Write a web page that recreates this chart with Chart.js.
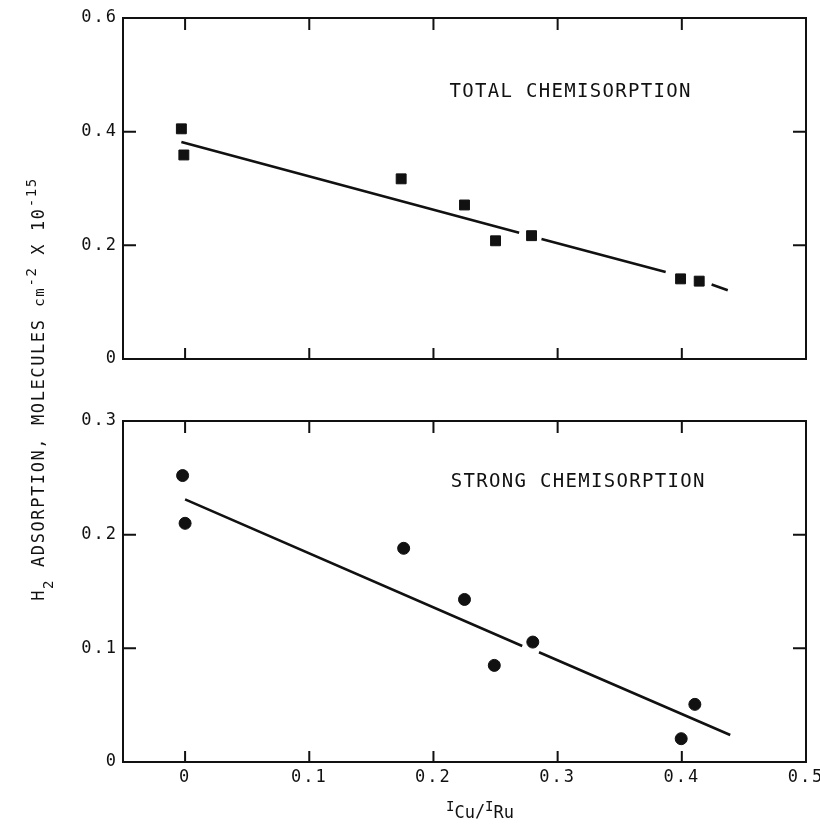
<!DOCTYPE html>
<html>
<head>
<meta charset="utf-8">
<script src="https://cdn.jsdelivr.net/npm/chart.js@4.4.1/dist/chart.umd.min.js"></script>
<style>
  html, body { margin: 0; padding: 0; background: #fff; }
  #wrap { position: relative; width: 820px; height: 824px; }
  canvas { position: absolute; left: 0; }
  #top { top: 0; }
  #bottom { top: 400px; }
</style>
</head>
<body>
<div id="wrap">
  <canvas id="top" width="820" height="824"></canvas>
  <canvas id="bottom" width="820" height="424"></canvas>
</div>
<script>
// values
const xTicks = [0, 0.1, 0.2, 0.3, 0.4, 0.5];
const totalYTicks = [0, 0.2, 0.4, 0.6];
const strongYTicks = [0, 0.1, 0.2, 0.3];

const totalX = [-0.003, -0.001, 0.174, 0.225, 0.250, 0.279, 0.399, 0.414];
const totalY = [0.405, 0.359, 0.317, 0.271, 0.208, 0.217, 0.141, 0.137];
// fit line, broken where it runs through points (null = gap)
const totalFitX = [-0.003, 0.269, null, 0.287, 0.387, null, 0.424, 0.437];
const totalFitY = [0.382, 0.222, null, 0.211, 0.153, null, 0.131, 0.121];

const strongX = [-0.002, 0.0, 0.176, 0.225, 0.249, 0.280, 0.3995, 0.4105];
const strongY = [0.252, 0.210, 0.188, 0.143, 0.085, 0.1055, 0.0205, 0.0507];
const strongFitX = [0.0, 0.2715, null, 0.285, 0.439];
const strongFitY = [0.231, 0.102, null, 0.0965, 0.0237];

const ink = '#111';
const mono = "'DejaVu Sans Mono', 'Liberation Mono', monospace";

const pts = (xs, ys) => xs.map((x, i) => ({ x: x, y: ys[i] }));

// frame with inward ticks on all four sides
const framePlugin = {
  id: 'frame',
  beforeDraw(chart) {
    chart.ctx.letterSpacing = '2px';
  },
  afterDraw(chart, args, opts) {
    const { ctx, chartArea: a, scales: { x, y } } = chart;
    ctx.save();
    ctx.letterSpacing = '0px';
    ctx.strokeStyle = ink;
    ctx.lineWidth = 2;
    ctx.strokeRect(a.left, a.top, a.width, a.height);
    ctx.beginPath();
    x.ticks.forEach(t => {
      const px = x.getPixelForValue(t.value);
      ctx.moveTo(px, a.bottom); ctx.lineTo(px, a.bottom - 11);
      ctx.moveTo(px, a.top); ctx.lineTo(px, a.top + 12);
    });
    y.ticks.forEach(t => {
      const py = y.getPixelForValue(t.value);
      ctx.moveTo(a.left, py); ctx.lineTo(a.left + 13, py);
      ctx.moveTo(a.right, py); ctx.lineTo(a.right - 13, py);
    });
    ctx.stroke();

    // panel label
    if (opts.label) {
      ctx.fillStyle = ink;
      ctx.font = '19px ' + mono;
      ctx.letterSpacing = '1.3px';
      ctx.textBaseline = 'alphabetic';
      ctx.textAlign = 'left';
      ctx.fillText(opts.label, x.getPixelForValue(opts.lx), y.getPixelForValue(opts.ly));
    }
    ctx.restore();
  }
};

function drawRuns(ctx, runs) {
  runs.forEach(r => {
    ctx.font = r.size + 'px ' + mono;
    r.w = ctx.measureText(r.t).width;
  });
  return runs.reduce((s, r) => s + r.w, 0);
}

// y axis title, spanning both panels (drawn on the top canvas)
const yTitlePlugin = {
  id: 'ytitle',
  afterDraw(chart) {
    const ctx = chart.ctx;
    const runs = [
      { t: 'H', size: 17, dy: 0 },
      { t: '2', size: 14, dy: 9 },
      { t: ' ADSORPTION, MOLECULES ', size: 17, dy: 0 },
      { t: 'cm', size: 14, dy: 0 },
      { t: '-2', size: 14, dy: -8 },
      { t: ' X 10', size: 17, dy: 0 },
      { t: '-15', size: 14, dy: -8 }
    ];
    ctx.save();
    ctx.letterSpacing = '1.6px';
    ctx.fillStyle = ink;
    const total = drawRuns(ctx, runs);
    ctx.translate(44, 389);
    ctx.rotate(-Math.PI / 2);
    let cx = -total / 2;
    runs.forEach(r => {
      ctx.font = r.size + 'px ' + mono;
      ctx.fillText(r.t, cx, r.dy);
      cx += r.w;
    });
    ctx.restore();
  }
};

// x axis title I_Cu / I_Ru (drawn on the bottom canvas)
const xTitlePlugin = {
  id: 'xtitle',
  afterDraw(chart) {
    const ctx = chart.ctx;
    const runs = [
      { t: 'I', size: 14, dy: -7 },
      { t: 'Cu', size: 17, dy: 0 },
      { t: '/', size: 17, dy: -1 },
      { t: 'I', size: 14, dy: -7 },
      { t: 'Ru', size: 17, dy: 0 }
    ];
    ctx.save();
    ctx.letterSpacing = '0px';
    ctx.fillStyle = ink;
    const total = drawRuns(ctx, runs);
    let cx = 480 - total / 2;
    runs.forEach(r => {
      ctx.font = r.size + 'px ' + mono;
      ctx.fillText(r.t, cx, 418 + r.dy);
      cx += r.w;
    });
    ctx.restore();
  }
};

function makePanel(canvas, o) {
  return new Chart(canvas, {
    type: 'scatter',
    data: {
      datasets: [
        {
          data: pts(o.fitX, o.fitY),
          type: 'line',
          borderColor: ink,
          borderWidth: 2.6,
          pointRadius: 0,
          spanGaps: false,
          tension: 0,
          fill: false
        },
        {
          data: pts(o.px, o.py),
          pointStyle: o.style,
          pointRadius: o.radius,
          pointBackgroundColor: ink,
          pointBorderColor: ink,
          pointBorderWidth: 1,
          showLine: false
        }
      ]
    },
    options: {
      responsive: false,
      animation: false,
      events: [],
      layout: { padding: { top: o.padTop, right: 14, left: 0, bottom: 0 } },
      plugins: {
        legend: { display: false },
        tooltip: { enabled: false },
        frame: { label: o.label, lx: o.lx, ly: o.ly }
      },
      scales: {
        x: {
          type: 'linear',
          min: -0.05,
          max: 0.5,
          afterBuildTicks: s => { s.ticks = xTicks.map(v => ({ value: v })); },
          afterFit: s => { s.height = o.xHeight; s.paddingLeft = 0; s.paddingRight = 0; },
          grid: { display: false, drawTicks: false },
          border: { display: false },
          ticks: {
            display: o.xLabels,
            padding: 5,
            color: ink,
            font: { family: mono, size: 17 },
            callback: v => v === 0 ? '0' : v.toFixed(1)
          }
        },
        y: {
          type: 'linear',
          min: 0,
          max: o.yMax,
          afterBuildTicks: s => { s.ticks = o.yTicks.map(v => ({ value: v })); },
          afterFit: s => { s.width = 123; s.paddingTop = 0; s.paddingBottom = 0; },
          grid: { display: false, drawTicks: false },
          border: { display: false },
          ticks: {
            padding: 5,
            color: ink,
            font: { family: mono, size: 17 },
            callback: v => v === 0 ? '0' : v.toFixed(1)
          }
        }
      }
    },
    plugins: o.plugins
  });
}

makePanel(document.getElementById('top'), {
  px: totalX, py: totalY, fitX: totalFitX, fitY: totalFitY,
  style: 'rect', radius: 7,
  yMax: 0.6, yTicks: totalYTicks,
  padTop: 18, xHeight: 465, xLabels: false,
  label: 'TOTAL CHEMISORPTION', lx: 0.213, ly: 0.461,
  plugins: [framePlugin, yTitlePlugin]
});

makePanel(document.getElementById('bottom'), {
  px: strongX, py: strongY, fitX: strongFitX, fitY: strongFitY,
  style: 'circle', radius: 6,
  yMax: 0.3, yTicks: strongYTicks,
  padTop: 21, xHeight: 62, xLabels: true,
  label: 'STRONG CHEMISORPTION', lx: 0.214, ly: 0.242,
  plugins: [framePlugin, xTitlePlugin]
});
</script>
</body>
</html>
